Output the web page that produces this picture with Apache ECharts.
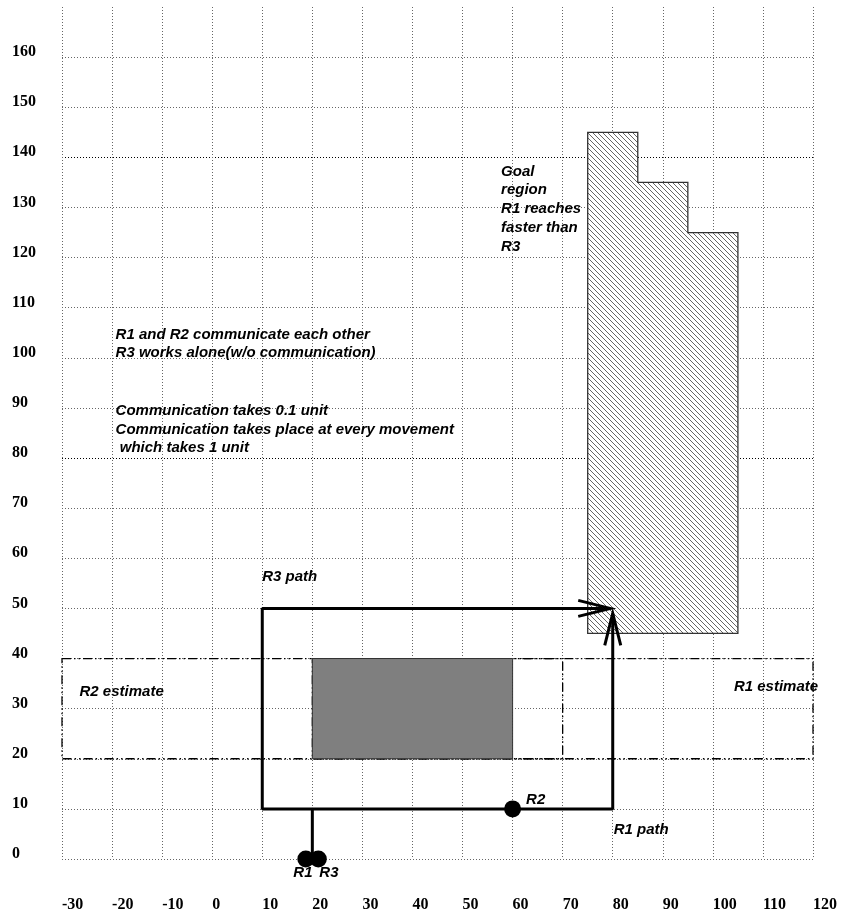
<!DOCTYPE html>
<html>
<head>
<meta charset="utf-8">
<script src="https://cdn.jsdelivr.net/npm/echarts@6/dist/echarts.min.js"></script>
<style>
html,body{margin:0;padding:0;background:#fff;}
#chart{width:842px;height:913px;}
</style>
</head>
<body>
<div id="chart"></div>
<script>
// ---- data ----
const xRange = [-30, 120];
const yRange = [0, 170];
const darkGridValues = [80, 140];

const r3Path = [[20, 0], [20, 10], [10, 10], [10, 50], [79.5, 50]];
const r1Path = [[20, 10], [80, 10], [80, 49]];
const robots = [['R1', 18.7, 0], ['R3', 21.2, 0], ['R2', 60, 10]];
const obstacle = [[20, 20], [60, 40]];
const goalRegion = [[75, 45], [75, 145], [85, 145], [85, 135], [95, 135], [95, 125], [105, 125], [105, 45]];
const r2Estimate = [[-30, 20], [70, 40]];
const r1Estimate = [[20, 20], [120, 40]];

const noteTexts = [
  'R1 and R2 communicate each other',
  'R3 works alone(w/o communication)',
  'Communication takes 0.1 unit',
  'Communication takes place at every movement',
  ' which takes 1 unit',
  'Goal\nregion\nR1 reaches\nfaster than\nR3',
  'R3 path',
  'R2 estimate',
  'R1 estimate',
  'R2',
  'R1 path',
  'R1',
  'R3'
];
const noteX = [-19.2, -19.2, -19.2, -19.2, -19.2, 57.8, 10.1, -26.4, 104.3, 62.8, 80.3, 16.3, 21.5];
const noteY = [104.5, 100.9, 89.4, 85.6, 82.0, 129.6, 56.1, 33.3, 34.3, 11.8, 5.8, -2.8, -2.8];

// ---- helpers ----
const chart = echarts.init(document.getElementById('chart'), null, {renderer: 'canvas'});

function makeHatch() {
  const c = document.createElement('canvas');
  const s = 5;
  c.width = s; c.height = s;
  const g = c.getContext('2d');
  g.fillStyle = '#ffffff';
  g.fillRect(0, 0, s, s);
  g.strokeStyle = '#555555';
  g.lineWidth = 0.9;
  g.beginPath();
  g.moveTo(-1, -1); g.lineTo(s + 1, s + 1);
  g.moveTo(-1, s - 1); g.lineTo(1, s + 1);
  g.moveTo(s - 1, -1); g.lineTo(s + 1, 1);
  g.stroke();
  return c;
}
const hatch = makeHatch();

const yGridColors = [];
for (let v = yRange[0]; v <= yRange[1]; v += 10) {
  if (v === yRange[1]) yGridColors.push('rgba(0,0,0,0)');
  else if (darkGridValues.indexOf(v) >= 0) yGridColors.push('#000');
  else yGridColors.push('#666');
}

function rectSeries(rect, style, z) {
  return {
    type: 'custom', coordinateSystem: 'cartesian2d', silent: true, clip: false, z: z,
    data: [[rect[0][0], rect[0][1], rect[1][0], rect[1][1]]],
    renderItem: function (params, api) {
      const p0 = api.coord([api.value(0), api.value(1)]);
      const p1 = api.coord([api.value(2), api.value(3)]);
      return {
        type: 'rect',
        shape: {x: Math.min(p0[0], p1[0]), y: Math.min(p0[1], p1[1]),
                width: Math.abs(p1[0] - p0[0]), height: Math.abs(p1[1] - p0[1])},
        style: style
      };
    }
  };
}

const dashDot = {fill: 'none', stroke: '#000', lineWidth: 1.3, lineDash: [9, 3, 1.5, 3, 1.5, 3]};
const textStyleBase = {
  fontFamily: 'Liberation Sans', fontStyle: 'italic', fontWeight: 'bold', fontSize: 15,
  color: '#000', opacity: 1
};

const arrows = [
  [r3Path[r3Path.length - 1], r3Path[r3Path.length - 2]],
  [r1Path[r1Path.length - 1], r1Path[r1Path.length - 2]]
];

const option = {
  animation: false,
  grid: {left: 62, right: 29, top: 7, bottom: 54},
  xAxis: {
    type: 'value', min: xRange[0], max: xRange[1], interval: 10,
    axisLine: {show: false}, axisTick: {show: false},
    axisLabel: {align: 'left', margin: 38, fontFamily: 'Liberation Serif', fontWeight: 'bold', fontSize: 16, color: '#000'},
    splitLine: {show: true, lineStyle: {color: '#666', type: [1, 2], width: 1}}
  },
  yAxis: {
    type: 'value', min: yRange[0], max: yRange[1], interval: 10,
    axisLine: {show: false}, axisTick: {show: false},
    axisLabel: {
      align: 'left', margin: 50, verticalAlign: 'bottom', lineHeight: 10,
      fontFamily: 'Liberation Serif', fontWeight: 'bold', fontSize: 16, color: '#000',
      formatter: function (v) { return v >= yRange[1] ? '' : String(v); }
    },
    splitLine: {show: true, lineStyle: {color: yGridColors, type: [1, 2], width: 1}}
  },
  series: [
    rectSeries(r2Estimate, dashDot, 3),
    rectSeries(r1Estimate, dashDot, 3),
    rectSeries(obstacle, {fill: '#7f7f7f', stroke: '#333', lineWidth: 1}, 4),
    {
      type: 'custom', coordinateSystem: 'cartesian2d', silent: true, clip: false, z: 4,
      data: [[0]],
      renderItem: function (params, api) {
        const pts = goalRegion.map(function (p) { return api.coord(p); });
        return {
          type: 'polygon', shape: {points: pts},
          style: {fill: {image: hatch, repeat: 'repeat'}, stroke: '#333', lineWidth: 1.3}
        };
      }
    },
    {
      type: 'line', data: r3Path, showSymbol: false, symbol: 'none', z: 6, silent: true,
      lineStyle: {color: '#000', width: 3}, clip: false
    },
    {
      type: 'line', data: r1Path, showSymbol: false, symbol: 'none', z: 6, silent: true,
      lineStyle: {color: '#000', width: 3}, clip: false
    },
    {
      type: 'custom', coordinateSystem: 'cartesian2d', silent: true, clip: false, z: 7,
      data: arrows.map(function (a) { return [a[0][0], a[0][1], a[1][0], a[1][1]]; }),
      renderItem: function (params, api) {
        const tip = api.coord([api.value(0), api.value(1)]);
        const from = api.coord([api.value(2), api.value(3)]);
        let dx = tip[0] - from[0], dy = tip[1] - from[1];
        const len = Math.sqrt(dx * dx + dy * dy) || 1;
        dx /= len; dy /= len;
        const L = 32, W = 8;
        const a1 = [tip[0] - L * dx - W * dy, tip[1] - L * dy + W * dx];
        const a2 = [tip[0] - L * dx + W * dy, tip[1] - L * dy - W * dx];
        return {
          type: 'polyline', shape: {points: [a1, tip, a2]},
          style: {fill: 'none', stroke: '#000', lineWidth: 3, lineJoin: 'miter'}
        };
      }
    },
    {
      type: 'scatter', z: 8, silent: true, clip: false, symbolSize: 17,
      itemStyle: {color: '#000', opacity: 1},
      data: robots.map(function (r) { return {name: r[0], value: [r[1], r[2]]}; })
    },
    {
      type: 'scatter', z: 9, silent: true, clip: false, symbolSize: 1,
      itemStyle: {color: 'rgba(0,0,0,0)', opacity: 1},
      label: Object.assign({
        show: true, position: [0, 0], align: 'left', verticalAlign: 'middle',
        lineHeight: 18.8, formatter: '{b}'
      }, textStyleBase),
      data: noteTexts.map(function (t, i) { return {name: t, value: [noteX[i], noteY[i]]}; })
    }
  ]
};
chart.setOption(option);
</script>
</body>
</html>
